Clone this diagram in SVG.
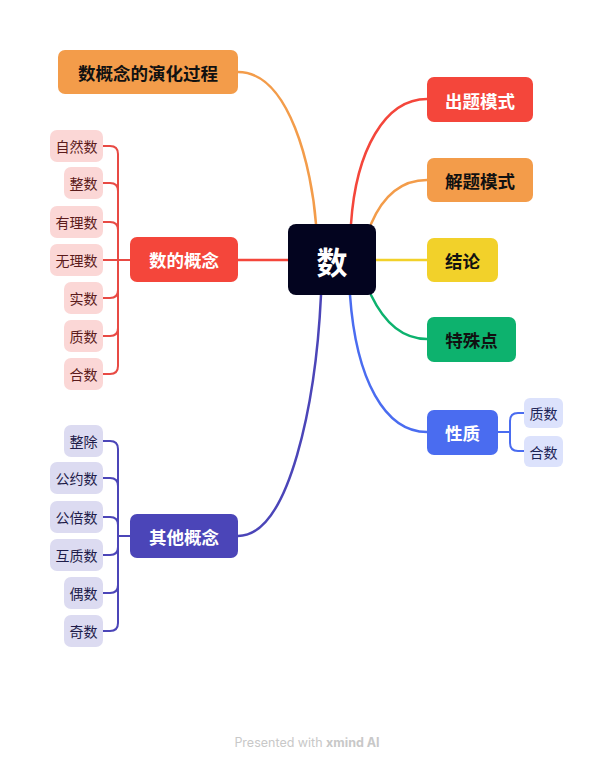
<svg xmlns="http://www.w3.org/2000/svg" width="614" height="767" viewBox="0 0 614 767">
<style>
text{font-family:"Noto Sans CJK SC","Noto Sans",sans-serif;text-anchor:middle;dominant-baseline:central}
.t{font-size:17.5px;font-weight:bold}
.w{fill:#fff}
.k{fill:#111}
.s{font-size:14px}
.pr{fill:#FBD7D6}
.pt{fill:#5B1B1B}
.ir{fill:#DCDBF1}
.it{fill:#1E1C4A}
.br{fill:#DCE2FC}
.bt{fill:#1C2457}
.c{fill:none;stroke-width:2.5;stroke-linecap:round}
.c2{fill:none;stroke-width:2;stroke-linecap:round}
</style>
<rect width="614" height="767" fill="#fff"/>
<g id="connectors">
<path class="c" stroke="#F39C4A" d="M238,72 C290,72 312,170 316,224"/>
<path class="c" stroke="#F4463B" d="M351,224 C356,150 385,99 427,99"/>
<path class="c" stroke="#F39C4A" d="M371,224 C383,196 402,180 427,180"/>
<path class="c" stroke="#F2D12A" d="M376,260 H427"/>
<path class="c" stroke="#0DB26E" d="M371,295 C384,322 402,339 427,339"/>
<path class="c" stroke="#4A6CF0" d="M350,295 C356,380 385,432 427,432"/>
<path class="c" stroke="#4B45B8" d="M238,536 C290,536 316,400 321,295"/>
<path class="c" stroke="#F4463B" d="M238,260 H288"/>
<g stroke="#E84A44">
<path class="c2" d="M103,146 H110 Q118,146 118,154 V260"/>
<path class="c2" d="M103,183 H110 Q118,183 118,191"/>
<path class="c2" d="M103,222 H110 Q118,222 118,230"/>
<path class="c2" d="M103,260 H130"/>
<path class="c2" d="M103,298 H110 Q118,298 118,290"/>
<path class="c2" d="M103,336 H110 Q118,336 118,328"/>
<path class="c2" d="M103,374 H110 Q118,374 118,366 V260"/>
</g>
<g stroke="#4B45B8">
<path class="c2" d="M103,441 H110 Q118,441 118,449 V536"/>
<path class="c2" d="M103,478 H110 Q118,478 118,486"/>
<path class="c2" d="M103,517 H110 Q118,517 118,525"/>
<path class="c2" d="M103,555 H110 Q118,555 118,547"/>
<path class="c2" d="M103,593 H110 Q118,593 118,585"/>
<path class="c2" d="M103,631 H110 Q118,631 118,623 V536"/>
<path class="c2" d="M118,536 H130"/>
</g>
<g stroke="#4A6CF0">
<path class="c2" d="M498,432 H510 V421 Q510,413 518,413 H524"/>
<path class="c2" d="M510,432 V443 Q510,451 518,451 H524"/>
</g>
</g>
<g id="root"><rect x="288" y="224" width="88" height="71" rx="8" fill="#03041F"/><text x="332" y="260" class="w" style="font-size:31px;font-weight:bold">数</text></g>
<g id="n-chuti"><rect x="427" y="77" width="106" height="45" rx="7" fill="#F4463B"/><text x="480" y="100" class="t w">出题模式</text></g>
<g id="n-jieti"><rect x="427" y="158" width="106" height="44" rx="7" fill="#F39C4A"/><text x="480" y="180" class="t k">解题模式</text></g>
<g id="n-jielun"><rect x="427" y="238" width="71" height="44" rx="7" fill="#F2D12A"/><text x="462.5" y="260" class="t k">结论</text></g>
<g id="n-teshu"><rect x="427" y="317" width="89" height="45" rx="7" fill="#0DB26E"/><text x="471.5" y="339.5" class="t k">特殊点</text></g>
<g id="n-xingzhi"><rect x="427" y="410" width="71" height="45" rx="7" fill="#4A6CF0"/><text x="462.5" y="432.5" class="t w">性质</text></g>
<g id="n-xz-zhishu"><rect x="524" y="398" width="39" height="30" rx="6" class="br"/><text x="543.5" y="413" class="s bt">质数</text></g>
<g id="n-xz-heshu"><rect x="524" y="436" width="39" height="31" rx="6" class="br"/><text x="543.5" y="451.5" class="s bt">合数</text></g>
<g id="n-yanhua"><rect x="58" y="50" width="180" height="44" rx="7" fill="#F39C4A"/><text x="148" y="72" class="t k">数概念的演化过程</text></g>
<g id="n-gainian"><rect x="130" y="237" width="108" height="45" rx="7" fill="#F4463B"/><text x="184" y="259.5" class="t w">数的概念</text></g>
<g id="n-ziran"><rect x="50" y="130" width="53" height="32" rx="7" class="pr"/><text x="76.5" y="146" class="s pt">自然数</text></g>
<g id="n-zhengshu"><rect x="64" y="167" width="39" height="32" rx="7" class="pr"/><text x="83.5" y="183" class="s pt">整数</text></g>
<g id="n-youli"><rect x="50" y="206" width="53" height="32" rx="7" class="pr"/><text x="76.5" y="222" class="s pt">有理数</text></g>
<g id="n-wuli"><rect x="50" y="244" width="53" height="32" rx="7" class="pr"/><text x="76.5" y="260" class="s pt">无理数</text></g>
<g id="n-shishu"><rect x="64" y="282" width="39" height="32" rx="7" class="pr"/><text x="83.5" y="298" class="s pt">实数</text></g>
<g id="n-zhishu"><rect x="64" y="320" width="39" height="32" rx="7" class="pr"/><text x="83.5" y="336" class="s pt">质数</text></g>
<g id="n-heshu"><rect x="64" y="358" width="39" height="32" rx="7" class="pr"/><text x="83.5" y="374" class="s pt">合数</text></g>
<g id="n-qita"><rect x="130" y="514" width="108" height="44" rx="7" fill="#4B45B8"/><text x="184" y="536" class="t w">其他概念</text></g>
<g id="n-zhengchu"><rect x="64" y="425" width="39" height="32" rx="7" class="ir"/><text x="83.5" y="441" class="s it">整除</text></g>
<g id="n-gongyue"><rect x="50" y="462" width="53" height="32" rx="7" class="ir"/><text x="76.5" y="478" class="s it">公约数</text></g>
<g id="n-gongbei"><rect x="50" y="501" width="53" height="32" rx="7" class="ir"/><text x="76.5" y="517" class="s it">公倍数</text></g>
<g id="n-huzhi"><rect x="50" y="539" width="53" height="32" rx="7" class="ir"/><text x="76.5" y="555" class="s it">互质数</text></g>
<g id="n-oushu"><rect x="64" y="577" width="39" height="32" rx="7" class="ir"/><text x="83.5" y="593" class="s it">偶数</text></g>
<g id="n-jishu"><rect x="64" y="615" width="39" height="32" rx="7" class="ir"/><text x="83.5" y="631" class="s it">奇数</text></g>
<text x="307" y="742" style="font-family:'Inter','Noto Sans',sans-serif;font-size:12.5px;fill:#c8c8c8">Presented with <tspan font-weight="bold">xmind AI</tspan></text>
</svg>
